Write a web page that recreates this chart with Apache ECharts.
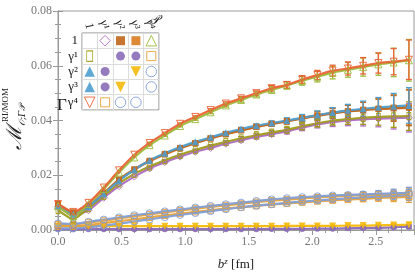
<!DOCTYPE html>
<html><head><meta charset="utf-8">
<script src="https://cdn.jsdelivr.net/npm/echarts@6/dist/echarts.min.js"></script>
<style>html,body{margin:0;padding:0;background:#fff}#c{width:415px;height:278px}</style>
</head><body><div id="c"></div>
<script>
// ---------- data ----------
const z = [0,0.12,0.24,0.36,0.48,0.60,0.72,0.84,0.96,1.08,1.20,1.32,1.44,1.56,1.68,1.80,1.92,2.04,2.16,2.28,2.40,2.52,2.64,2.76];
const gammaLabels = ['1','γ¹','γ²','γ³','γ⁴'];
const xTicks = [0,0.5,1.0,1.5,2.0,2.5];
const yTicks = [0,0.02,0.04,0.06,0.08];

// Γ=γ⁴, P=1  (red ▽)
const yG4P1 = [0.0095,0.0066,0.0099,0.0155,0.0218,0.0275,0.0318,0.0354,0.0388,0.0413,0.0438,0.0462,0.0481,0.0500,0.0518,0.0530,0.0550,0.0566,0.0582,0.0590,0.0600,0.0610,0.0615,0.0622];
const eG4P1 = [0,0,0,0,0,0,0.0002,0.0003,0.0003,0.0004,0.0005,0.0006,0.0007,0.0008,0.0010,0.0012,0.0014,0.0017,0.0020,0.0024,0.0030,0.0037,0.0048,0.0072];
// Γ=1, P=γ⁴  (green △)
const y1G4 = [0.0088,0.0050,0.0095,0.0150,0.0210,0.0265,0.0310,0.0345,0.0380,0.0405,0.0430,0.0455,0.0475,0.0495,0.0512,0.0528,0.0545,0.0560,0.0575,0.0585,0.0595,0.0605,0.0612,0.0620];
const e1G4 = [0,0,0,0,0,0,0.0002,0.0003,0.0003,0.0004,0.0005,0.0006,0.0008,0.0009,0.0011,0.0013,0.0016,0.0019,0.0023,0.0027,0.0033,0.0040,0.0052,0.0076];
// Γ=1, P=γ²  (brown ■)
const y1G2 = [0.0095,0.0065,0.0088,0.0135,0.0185,0.0222,0.0253,0.0278,0.0300,0.0318,0.0335,0.0350,0.0364,0.0376,0.0387,0.0397,0.0407,0.0417,0.0426,0.0433,0.0438,0.0442,0.0444,0.0446];
// Γ=1, P=γ³  (orange ■)
const y1G3 = [0.0092,0.0063,0.0086,0.0133,0.0182,0.0220,0.0251,0.0276,0.0298,0.0317,0.0334,0.0350,0.0364,0.0377,0.0388,0.0398,0.0409,0.0419,0.0428,0.0435,0.0440,0.0444,0.0447,0.0449];
// Γ=γ², P=1  (blue ▲)
const yG2P1 = [0.0088,0.0058,0.0086,0.0132,0.0180,0.0220,0.0254,0.0280,0.0303,0.0322,0.0339,0.0355,0.0369,0.0381,0.0391,0.0400,0.0410,0.0420,0.0429,0.0437,0.0443,0.0448,0.0452,0.0455];
const eMid = [0,0,0,0,0,0,0.0002,0.0002,0.0003,0.0003,0.0004,0.0005,0.0006,0.0007,0.0008,0.0010,0.0012,0.0015,0.0018,0.0022,0.0028,0.0036,0.0047,0.0065];
// Γ=γ¹, P=1  (olive ▯)
const yG1P1 = [0.0073,0.0040,0.0080,0.0125,0.0170,0.0205,0.0232,0.0255,0.0275,0.0292,0.0308,0.0322,0.0335,0.0346,0.0356,0.0366,0.0379,0.0390,0.0399,0.0405,0.0410,0.0413,0.0415,0.0416];
// Γ=1, P=γ¹  (purple ◇)
const y1G1 = [0.0085,0.0055,0.0072,0.0118,0.0160,0.0195,0.0225,0.0248,0.0268,0.0286,0.0300,0.0315,0.0328,0.0340,0.0350,0.0360,0.0374,0.0386,0.0394,0.0400,0.0404,0.0407,0.0409,0.0410];
const eMid2 = [0,0,0,0,0,0,0.0002,0.0002,0.0003,0.0003,0.0004,0.0005,0.0006,0.0007,0.0008,0.0009,0.0011,0.0013,0.0016,0.0019,0.0024,0.0030,0.0040,0.0052];
// Γ=γ⁴, P=γ²  (blue ○, upper)
const yG4G2 = [0.0024,0.0022,0.0030,0.0038,0.0046,0.0054,0.0061,0.0068,0.0075,0.0082,0.0088,0.0094,0.0100,0.0106,0.0112,0.0116,0.0120,0.0123,0.0126,0.0128,0.0130,0.0132,0.0134,0.0136];
// Γ=γ⁴, P=γ¹  (orange □, upper)
const yG4G1 = [0.0020,0.0020,0.0027,0.0034,0.0042,0.0050,0.0057,0.0064,0.0071,0.0078,0.0084,0.0090,0.0096,0.0102,0.0107,0.0111,0.0115,0.0119,0.0122,0.0125,0.0127,0.0129,0.0131,0.0133];
// Γ=γ², P=γ⁴  (blue ○, lower)
const yG2G4 = [0.0006,0.0006,0.0010,0.0016,0.0023,0.0031,0.0039,0.0047,0.0055,0.0062,0.0069,0.0076,0.0083,0.0089,0.0094,0.0099,0.0104,0.0108,0.0112,0.0116,0.0119,0.0122,0.0125,0.0128];
// Γ=γ¹, P=γ⁴  (orange □, lower)
const yG1G4 = [0.0013,0.0013,0.0018,0.0025,0.0032,0.0039,0.0046,0.0053,0.0060,0.0066,0.0072,0.0078,0.0083,0.0088,0.0093,0.0097,0.0101,0.0105,0.0108,0.0111,0.0114,0.0117,0.0119,0.0121];
const eLow = [0,0,0,0,0,0,0,0.0001,0.0001,0.0002,0.0002,0.0002,0.0003,0.0003,0.0004,0.0004,0.0005,0.0006,0.0007,0.0008,0.0010,0.0012,0.0015,0.0020];
// Γ=γ¹, P=γ²  (purple ●)
const yG1G2 = [0.0003,0.0003,0.0003,0.0003,0.0003,0.0003,0.0003,0.0003,0.0003,0.0003,0.0003,0.0003,0.0003,0.0003,0.0004,0.0004,0.0004,0.0005,0.0005,0.0006,0.0007,0.0008,0.0010,0.0012];
// Γ=γ², P=γ³  (yellow ▼)
const yG2G3 = [0.0015,0.0015,0.0014,0.0014,0.0014,0.0014,0.0014,0.0014,0.0014,0.0014,0.0014,0.0014,0.0014,0.0014,0.0014,0.0015,0.0015,0.0015,0.0015,0.0016,0.0016,0.0017,0.0018,0.0019];
const eBot = [0,0,0,0,0,0,0,0,0,0,0,0,0,0.0001,0.0001,0.0001,0.0001,0.0002,0.0002,0.0002,0.0003,0.0004,0.0005,0.0007];

// ---------- styles ----------
const ST = {
  redDown:   {color:'#EB6235', symbol:'triangle', rot:180, size:7, open:true},
  greenUp:   {color:'#9BBB3B', symbol:'triangle', rot:0,   size:7, open:true},
  brownSq:   {color:'#C2661C', symbol:'rect',     rot:0,   size:6, open:false},
  orangeSq:  {color:'#D97C1F', symbol:'rect',     rot:0,   size:6, open:false},
  blueUp:    {color:'#4E9FD1', symbol:'triangle', rot:0,   size:7, open:false},
  oliveRect: {color:'#9E9C17', symbol:'rect',     rot:0,   size:[4,7], open:true},
  purpleDia: {color:'#AE6CC2', symbol:'diamond',  rot:0,   size:7, open:true},
  blueCirc:  {color:'#7F9FD8', symbol:'circle',   rot:0,   size:7, open:true},
  orangeOpen:{color:'#E8A23A', symbol:'rect',     rot:0,   size:6, open:true},
  purpleDot: {color:'#8A6BB6', symbol:'circle',   rot:0,   size:6, open:false},
  yellowDown:{color:'#F4B90A', symbol:'triangle', rot:180, size:7, open:false}
};

const curves = [
  {vals:yG1G2, err:eBot,  st:'purpleDot'},
  {vals:yG2G3, err:eBot,  st:'yellowDown'},
  {vals:yG1G4, err:eLow,  st:'orangeOpen'},
  {vals:yG2G4, err:eLow,  st:'blueCirc'},
  {vals:yG4G1, err:eLow,  st:'orangeOpen'},
  {vals:yG4G2, err:eLow,  st:'blueCirc'},
  {vals:y1G1,  err:eMid2, st:'purpleDia'},
  {vals:yG1P1, err:eMid2, st:'oliveRect'},
  {vals:y1G3,  err:eMid,  st:'orangeSq'},
  {vals:y1G2,  err:eMid,  st:'brownSq'},
  {vals:yG2P1, err:eMid,  st:'blueUp'},
  {vals:y1G4,  err:e1G4,  st:'greenUp'},
  {vals:yG4P1, err:eG4P1, st:'redDown'}
];

// legend table: [Γ row, P column, style]
const cells = [
  [0,1,'purpleDia'],[0,2,'brownSq'],[0,3,'orangeSq'],[0,4,'greenUp'],
  [1,0,'oliveRect'],[1,2,'purpleDot'],[1,3,'purpleDot'],[1,4,'orangeOpen'],
  [2,0,'blueUp'],[2,1,'purpleDot'],[2,3,'yellowDown'],[2,4,'blueCirc'],
  [3,0,'blueUp'],[3,1,'purpleDot'],[3,2,'yellowDown'],[3,4,'blueCirc'],
  [4,0,'redDown'],[4,1,'orangeOpen'],[4,2,'blueCirc'],[4,3,'blueCirc']
];

// ---------- build ----------
const SERIF = '"Liberation Serif","DejaVu Serif",serif';
const series = [];
function itemStyleOf(s){
  return s.open ? {color:'rgba(255,255,255,0)', borderColor:s.color, borderWidth:1, opacity:0.9}
                : {color:s.color, borderWidth:0, opacity:0.9};
}
curves.forEach(c=>{
  const s = ST[c.st];
  series.push({
    type:'line', xAxisIndex:0, yAxisIndex:0, clip:false,
    data: c.vals.map((v,i)=>[z[i],v]),
    smooth:0.2, symbol:s.symbol, symbolRotate:s.rot, symbolSize:s.size,
    showAllSymbol:true,
    lineStyle:{color:s.color, width:2.2, opacity:0.95},
    itemStyle:itemStyleOf(s), silent:true, animation:false
  });
  series.push({
    type:'custom', xAxisIndex:0, yAxisIndex:0, silent:true, animation:false,
    data: c.vals.map((v,i)=>[z[i],v,c.err[i]]),
    renderItem:(params,api)=>{
      const e = api.value(2); if(!e) return null;
      const x = api.value(0), y = api.value(1);
      const top = api.coord([x,y+e]), bot = api.coord([x,y-e]);
      const w = 3;
      const st = {stroke:s.color, lineWidth:1.3};
      return {type:'group', children:[
        {type:'line', shape:{x1:top[0],y1:top[1],x2:bot[0],y2:bot[1]}, style:st},
        {type:'line', shape:{x1:top[0]-w,y1:top[1],x2:top[0]+w,y2:top[1]}, style:st},
        {type:'line', shape:{x1:bot[0]-w,y1:bot[1],x2:bot[0]+w,y2:bot[1]}, style:st}
      ]};
    }
  });
});
// legend table markers
Object.keys(ST).forEach(k=>{
  const s = ST[k];
  const d = cells.filter(c=>c[2]===k).map(c=>[c[1],c[0]]);
  if(!d.length) return;
  series.push({
    type:'scatter', xAxisIndex:2, yAxisIndex:2, data:d,
    symbol:s.symbol, symbolRotate:s.rot,
    symbolSize: Array.isArray(s.size) ? [s.size[0]*1.5,s.size[1]*1.5] : s.size*1.5,
    itemStyle:itemStyleOf(s), silent:true, animation:false, z:5
  });
});

const axisCol = '#9a9a9a';
function mainAxis(isX, pos, showLabel){
  return {
    type:'value', position:pos, gridIndex:0,
    min: 0, max: isX?2.8:0.08, interval: isX?0.5:0.02,
    axisLine:{show:true, lineStyle:{color:axisCol, width:1}},
    axisTick:{show:true, inside:true, length:5, lineStyle:{color:axisCol}},
    minorTick:{show:true, splitNumber: isX?5:4, length:3, lineStyle:{color:axisCol}},
    splitLine:{show:false},
    axisLabel:{show:showLabel, color:'#777', fontFamily:SERIF, fontSize:12, margin:6,
      showMaxLabel: !isX, hideOverlap:false,
      formatter: v => isX ? v.toFixed(1) : v.toFixed(2)}
  };
}
const xMain = mainAxis(true,'bottom',true);
xMain.name = '{i|b}{s|z} [fm]';
xMain.nameLocation = 'middle';
xMain.nameGap = 27;
xMain.nameTextStyle = {fontFamily:SERIF, fontSize:13, color:'#222',
  rich:{i:{fontFamily:SERIF, fontStyle:'italic', fontSize:13, color:'#222'},
        s:{fontFamily:SERIF, fontStyle:'italic', fontSize:9, color:'#222', verticalAlign:'top', padding:[0,0,6,0]}}};

const catLabel = {interval:0, color:'#222', fontFamily:SERIF, fontSize:13, margin:4};
const R90 = Math.PI/2;
const option = {
  backgroundColor:'#fff', animation:false,
  grid:[
    {left:58, right:1, top:11, bottom:48, show:true, borderColor:axisCol, borderWidth:1},
    {left:82, top:33, width:77, height:77, show:true, backgroundColor:'#fff', borderColor:'#888', borderWidth:1, z:4}
  ],
  xAxis:[
    xMain,
    mainAxis(true,'top',false),
    {type:'category', gridIndex:1, position:'top', data:gammaLabels,
     axisLine:{show:false}, axisTick:{show:false},
     splitLine:{show:true, interval:0, lineStyle:{color:'#dcdcdc'}},
     axisLabel:Object.assign({}, catLabel, {rotate:78, fontSize:12}), z:4}
  ],
  yAxis:[
    mainAxis(false,'left',true),
    mainAxis(false,'right',false),
    {type:'category', gridIndex:1, inverse:true, data:gammaLabels,
     axisLine:{show:false}, axisTick:{show:false},
     splitLine:{show:true, interval:0, lineStyle:{color:'#dcdcdc'}},
     axisLabel:catLabel, z:4}
  ],
  graphic:[
    {type:'group', left:1, top:88, z:10, bounding:'all', children:[
      {type:'text', x:15, y:62, rotation:R90,
       style:{text:'ℳ', font:'italic 21px "DejaVu Serif"', fill:'#222', align:'left', verticalAlign:'middle'}},
      {type:'text', x:5, y:34, rotation:R90,
       style:{text:'RI/MOM', font:'9px "Liberation Serif"', fill:'#222', align:'left', verticalAlign:'middle'}},
      {type:'text', x:22, y:38, rotation:R90,
       style:{text:'𝒪;Γ𝒫', font:'italic 9px "DejaVu Serif"', fill:'#222', align:'left', verticalAlign:'middle'}}
    ]},
    {type:'text', left:57, top:97, z:10, style:{text:'Γ', font:'17px "Liberation Serif"', fill:'#222'}},
    {type:'text', left:150, top:14, z:10, style:{text:'𝒫', font:'italic 13px "DejaVu Serif"', fill:'#222'}}
  ],
  series: series
};
const chart = echarts.init(document.getElementById('c'), null, {renderer:'canvas'});
chart.setOption(option);
</script></body></html>
